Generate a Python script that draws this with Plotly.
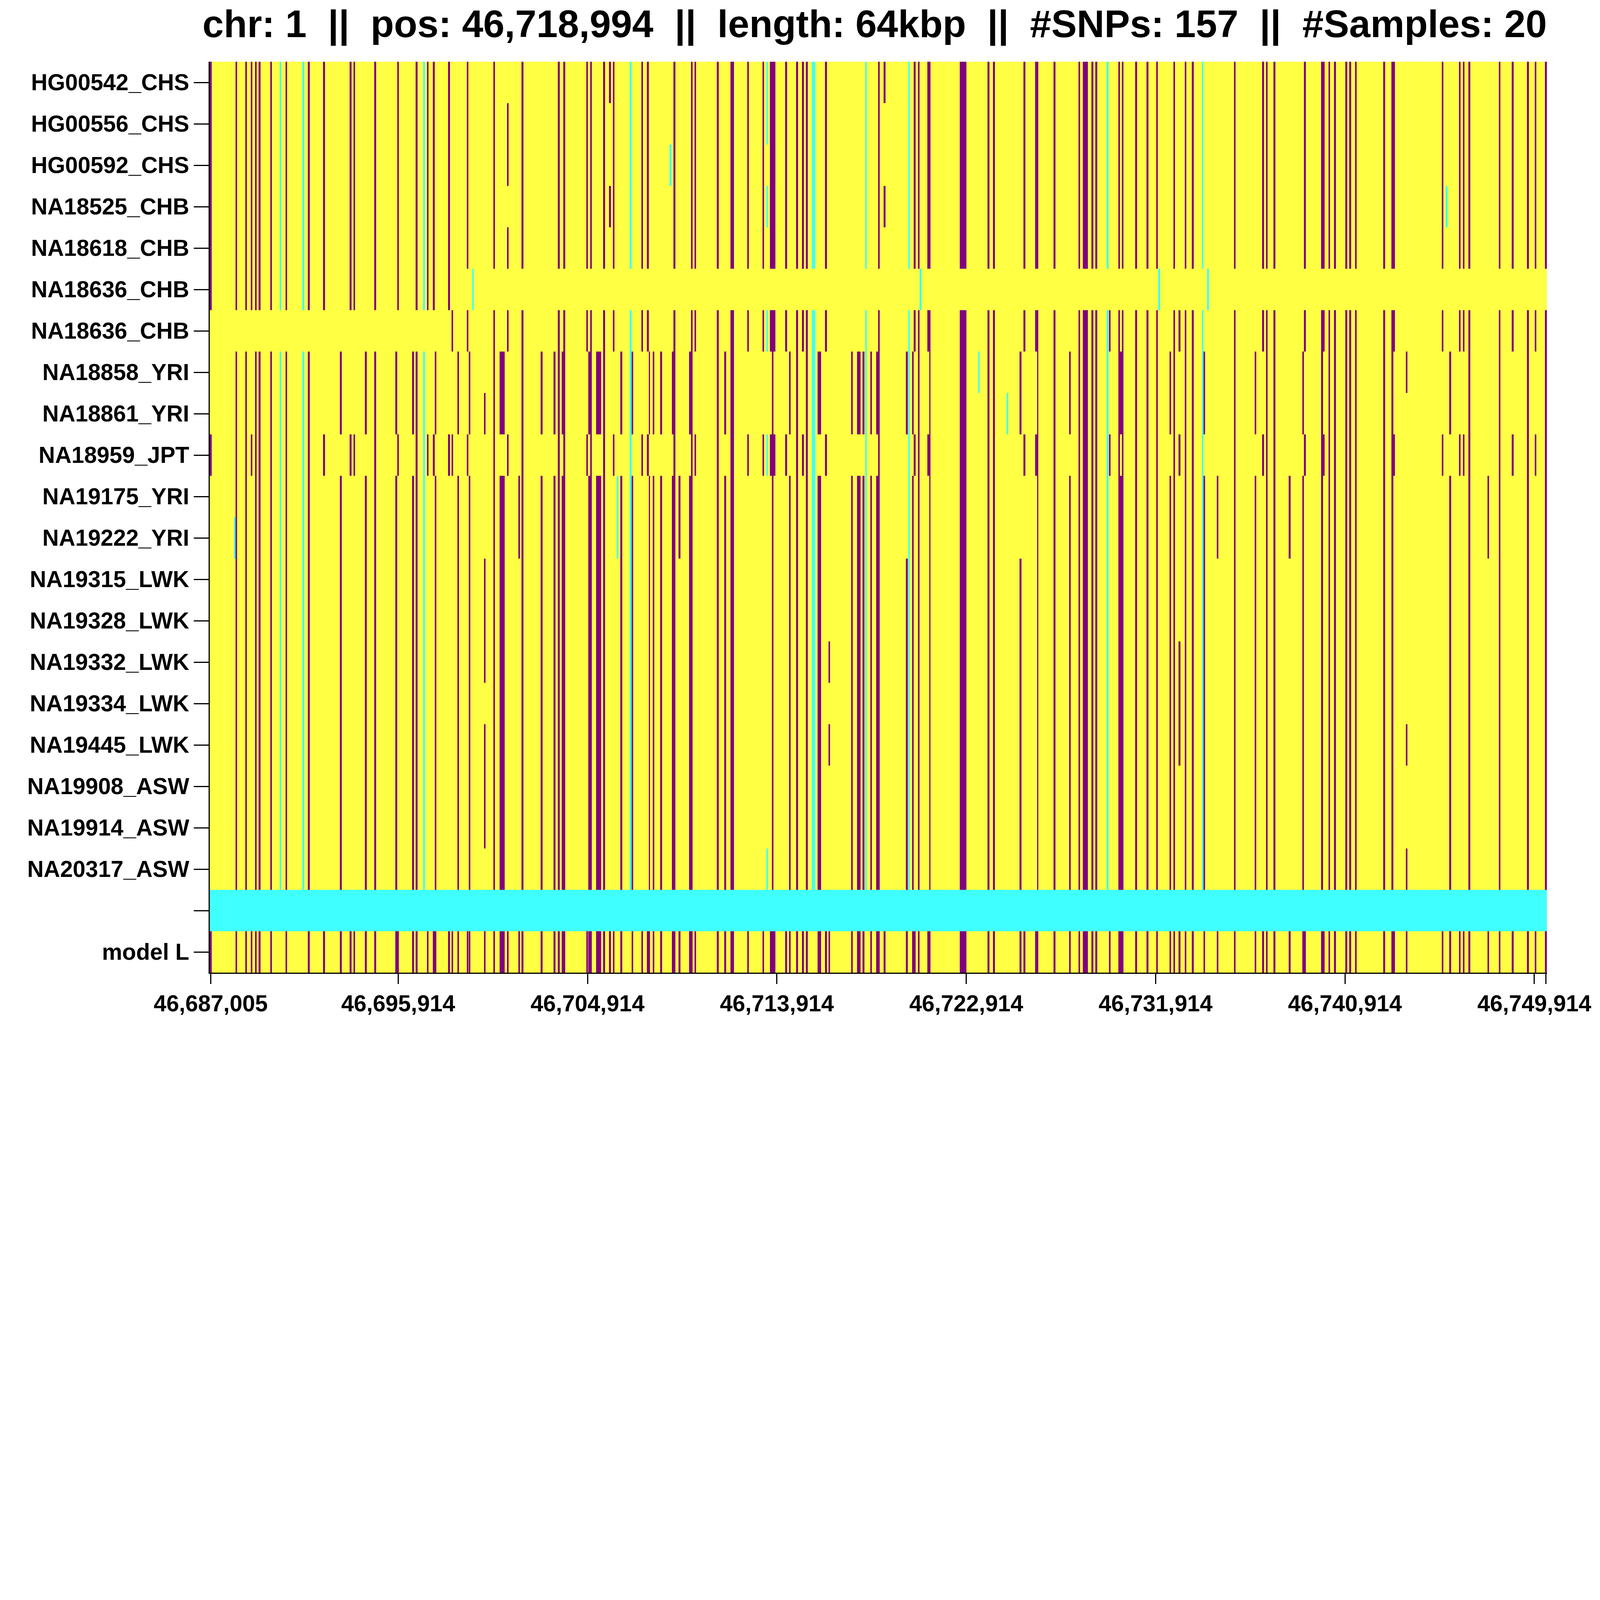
import plotly.graph_objects as go

samples = ["HG00542_CHS","HG00556_CHS","HG00592_CHS","NA18525_CHB","NA18618_CHB",
           "NA18636_CHB","NA18636_CHB","NA18858_YRI","NA18861_YRI","NA18959_JPT",
           "NA19175_YRI","NA19222_YRI","NA19315_LWK","NA19328_LWK","NA19332_LWK",
           "NA19334_LWK","NA19445_LWK","NA19908_ASW","NA19914_ASW","NA20317_ASW",
           "", "model L"]

# SNP positions and haplotype-group codes (A = CHS/CHB/JPT haplotype, B = YRI/LWK/ASW haplotype,
# C = missing in all, rN,M = purple in listed rows only, cN,M = missing in listed rows only)
snp_pos = [
 46687005,46688150,46688223,46688688,46688947,46689154,46689329,46689878,46690322,46690602,
 46691408,46691667,46692391,46693187,46693652,46693828,46694376,46694821,46695824,46695897,
 46696621,46696786,46697148,46697324,46697603,46697686,46698327,46698493,46698772,46699216,
 46699310,46699475,46700033,46700478,46700778,46700861,46700944,46701130,46701667,46701823,
 46702733,46703343,46703550,46703725,46703808,46704894,46704998,46705070,46705360,46705442,
 46705525,46705701,46705980,46706156,46706342,46706518,46706963,46707045,46707511,46707780,
 46707842,46708048,46708410,46708855,46708959,46709041,46709289,46709786,46709869,46710034,
 46711110,46711461,46711751,46711834,46712547,46713271,46713457,46713633,46713716,46713799,
 46714357,46714533,46714874,46715153,46715340,46715619,46715702,46715888,46715970,46716250,
 46716405,46717480,46717770,46717853,46718028,46718153,46718390,46718680,46718763,46719031,
 46720096,46720189,46720375,46720458,46720654,46720737,46721109,46721171,46722640,46722723,
 46722805,46722888,46723519,46723974,46724233,46724874,46725494,46725680,46726239,46726301,
 46727108,46727842,46728287,46728493,46728576,46728659,46728907,46729093,46729631,46729735,
 46730179,46730262,46730345,46730986,46731524,46731979,46732082,46732610,46732796,46733054,
 46733334,46733685,46734151,46734233,46734409,46734864,46735681,46736664,46737026,46737201,
 46737563,46738287,46738928,46739011,46739828,46739911,46740170,46740438,46740976,46741162,
 46741431,46742776,46743169,46743251,46743851,46745558,46745754,46745920,46746375,46746561,
 46746830,46747729,46748267,46748888,46749612,46749974,46750470]
snp_code = [
 "A","c11","AB","AB","A","AB","AB","AB","C","AB",
 "C","AB","A","B","A","A","B","AB","B","A",
 "B","AB","C","A","A","B","A","r6,9","B","A",
 "B","c5","r8,12,13,14,16,17,18","AB","B","B","B","r1,2,4,6,9","r10,11","AB",
 "B","B","AB","B","AB","A","B","AB","B","B",
 "B","AB","r0,3","A","c10,11","B","C","B","A","A",
 "B","B","B","c2","B","AB","r10,11","B","AB","A",
 "AB","B","AB","AB","A","A","c0,1,3,6,9,19","A","AB","A",
 "A","B","AB","A","AB","C","C","B","B","A",
 "r14,16","B","B","B","B","C","B","B","AB","r0,3",
 "r7,8,12,13,14,15,16,17,18,19","C","B","A","AB","c5","A","AB","AB","AB",
 "AB","AB","c7","AB","AB","c8","r7,8,12,13,14,15,16,17,18,19","A","A","AB",
 "AB","B","AB","AB","AB","AB","AB","AB","C","r6,9",
 "AB","B","AB","AB","AB","AB","c5","B","AB","r6,9,14,15,16",
 "AB","AB","C","B","c5","r10,11","AB","B","A","AB",
 "AB","r10,11","B","A","AB","A","AB","AB","AB","AB",
 "AB","AB","AB","A","r7,16,19","A","c3","B","A","A",
 "AB","r10,11","AB","A","AB","A","AB"]

x_ticks = [46687005,46695914,46704914,46713914,46722914,46731914,46740914,46749914,46750470]
x_tick_text = ["46,687,005","46,695,914","46,704,914","46,713,914","46,722,914",
               "46,731,914","46,740,914","46,749,914",""]

A_ROWS = [0,1,2,3,4,9]
B_ROWS = [7,8,10,11,12,13,14,15,16,17,18,19]
NR = len(samples)
SEP, MODEL = 20, 21
HALF = 42
X0, X1 = 46686960, 46750512

def column(pos, code):
    col = [0]*NR
    a_rows = list(A_ROWS)
    if pos < 46699000: a_rows.append(5)
    if pos > 46698400: a_rows.append(6)
    if code in ("A","AB","C"):
        for r in a_rows: col[r] = 2 if code=="C" else 1
    if code in ("B","AB","C"):
        for r in B_ROWS: col[r] = 2 if code=="C" else 1
    if code[0] in "rc" and code != "C":
        v = 1 if code[0]=="r" else 2
        for r in code[1:].split(","):
            col[int(r)] = v
    col[SEP] = 2
    col[MODEL] = 1 if any(col[r]==1 for r in range(20)) else 0
    return col

gap = [0]*NR; gap[SEP] = 2
edges = [X0]; cells = []
for p, c in sorted(zip(snp_pos, snp_code)):
    l, r = max(p-HALF, edges[-1]), min(p+HALF, X1)
    if l > edges[-1]:
        edges.append(l); cells.append(gap)
    edges.append(r); cells.append(column(p, c))
if edges[-1] < X1:
    edges.append(X1); cells.append(gap)
z = [[cells[j][i] for j in range(len(cells))] for i in range(NR)]

cs = [[0,"#FFFF44"],[0.333,"#FFFF44"],[0.334,"#800080"],[0.666,"#800080"],[0.667,"#40FFFF"],[1,"#40FFFF"]]
fig = go.Figure(go.Heatmap(z=z, x=edges, y=list(range(NR)), zmin=0, zmax=2,
                           colorscale=cs, showscale=False, hoverinfo="skip"))
font = dict(family="Liberation Sans, Arial, sans-serif", color="black")
fig.update_layout(
    width=7025, height=4525, paper_bgcolor="white", plot_bgcolor="white",
    margin=dict(l=921, r=233, t=271, b=253),
    title=dict(text="chr: 1  ||  pos: 46,718,994  ||  length: 64kbp  ||  #SNPs: 157  ||  #Samples: 20",
               x=1, xref="paper", xanchor="right", y=0.977, yanchor="middle",
               font=dict(size=168, weight="bold", **font)),
    font=font,
)
fig.update_xaxes(range=[X0, X1], tickvals=x_ticks, ticktext=x_tick_text, ticks="outside",
                 ticklen=45, tickwidth=6, tickcolor="black", showline=True, linecolor="black",
                 linewidth=6, showgrid=False, zeroline=False, tickangle=0,
                 tickfont=dict(size=100, weight="bold", **font))
fig.update_yaxes(range=[NR-0.5, -0.5], tickvals=list(range(NR)), ticktext=samples, ticks="outside",
                 ticklen=65, tickwidth=5, tickcolor="black", showline=True, linecolor="black",
                 linewidth=5, showgrid=False, zeroline=False,
                 tickfont=dict(size=100, weight="bold", **font))

# fit the figure to the actual browser viewport width, keeping the reference proportions
fit_js = """
document.body.style.margin = '0';
document.body.style.overflow = 'hidden';
var gd = document.getElementById('{plot_id}');
var W = document.documentElement.clientWidth;
var H = W * 4525 / 7025;
if (window.innerHeight && window.innerHeight < H) { H = window.innerHeight; }
var sx = W / 7025, sy = H / 4525, s = Math.min(sx, sy);
Plotly.relayout(gd, {
  width: W, height: H,
  'margin.l': 921 * sx, 'margin.r': 233 * sx, 'margin.t': 271 * sy, 'margin.b': 253 * sy,
  'title.font.size': 168 * s,
  'xaxis.tickfont.size': 100 * s, 'yaxis.tickfont.size': 100 * s,
  'xaxis.ticklen': 45 * s, 'yaxis.ticklen': 65 * s,
  'xaxis.tickwidth': 6 * s, 'yaxis.tickwidth': 5 * s,
  'xaxis.linewidth': 6 * s, 'yaxis.linewidth': 5 * s
});
"""
fig.write_html("out.html", post_script=fit_js, config={"displayModeBar": False})
